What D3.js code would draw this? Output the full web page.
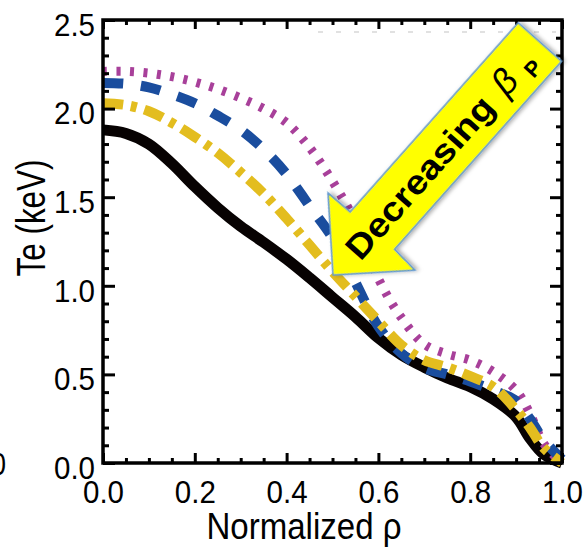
<!DOCTYPE html>
<html><head><meta charset="utf-8">
<script src="https://cdn.jsdelivr.net/npm/d3@7"></script>
<style>
html,body{margin:0;padding:0;background:#fff;}
svg{display:block;}
text{font-family:"Liberation Sans",Arial,sans-serif;}
</style></head>
<body>
<script>
// ---- data ----
const rho = [0,0.05,0.1,0.15,0.2,0.25,0.3,0.35,0.4,0.45,0.5,0.55,0.6,0.65,0.7,0.75,0.8,0.85,0.9,0.93,0.96,1.0];
const teBlack   = [1.88,1.86,1.80,1.69,1.56,1.44,1.335,1.245,1.15,1.045,0.935,0.825,0.705,0.61,0.54,0.48,0.43,0.36,0.26,0.14,0.05,0.0];
const teMagenta = [2.21,2.21,2.20,2.18,2.15,2.11,2.06,2.00,1.92,1.78,1.59,1.36,1.04,0.82,0.67,0.615,0.58,0.515,0.41,0.28,0.11,0.0];
const teBlue    = [2.145,2.14,2.12,2.08,2.03,1.96,1.88,1.77,1.63,1.45,1.27,1.02,0.77,0.62,0.535,0.50,0.46,0.41,0.35,0.25,0.13,0.02];
const teYellow  = [2.03,2.02,1.985,1.92,1.84,1.75,1.64,1.52,1.38,1.23,1.08,0.94,0.80,0.665,0.58,0.54,0.49,0.43,0.30,0.20,0.085,0.0];
const xMajor = [0,0.2,0.4,0.6,0.8,1.0];
const yMajor = [0,0.5,1.0,1.5,2.0,2.5];
const xLabel = "Normalized ρ";
const yLabel = "Te (keV)";
const arrowText = "Decreasing";

const W = 587, H = 551;
const svg = d3.select("body").append("svg").attr("width",W).attr("height",H);
const x = d3.scaleLinear().domain([0,1]).range([103,562]);
const y = d3.scaleLinear().domain([0,2.5]).range([463,20]);

const xMinor = d3.range(0,1.0001,0.05).filter(v=>!xMajor.some(m=>Math.abs(m-v)<1e-6));
const yMinor = d3.range(0,2.5001,0.1).filter(v=>!yMajor.some(m=>Math.abs(m-v)<1e-6));

// faint artifacts
svg.append("line").attr("x1",318).attr("x2",556).attr("y1",32).attr("y2",32)
  .attr("stroke","#d8d8d8").attr("stroke-width",1.5).attr("stroke-dasharray","5,13");
svg.append("text").attr("x",6).attr("y",475).attr("text-anchor","end")
  .attr("font-size",32).attr("textLength",15).attr("lengthAdjust","spacingAndGlyphs").text("0");

// series
const line = d3.line().x((d,i)=>x(rho[i])).y(d=>y(d)).curve(d3.curveCatmullRom.alpha(0.5));
const series = [
  {v:teBlack,   c:"#070202", w:11, dash:null},
  {v:teMagenta, c:"#A8409A", w:9,  dash:"4,9.5"},
  {v:teBlue,    c:"#1A4D9E", w:10, dash:"20,18"},
  {v:teYellow,  c:"#E3BD1F", w:10, dash:"20,8,6,8"}
];
svg.append("g").selectAll("path").data(series).join("path")
  .attr("d",d=>line(d.v)).attr("fill","none")
  .attr("stroke",d=>d.c).attr("stroke-width",d=>d.w)
  .attr("stroke-dasharray",d=>d.dash)
  .attr("stroke-linejoin","round");

// axes
function styleAxis(g){ g.select(".domain").remove(); g.selectAll("line").attr("stroke","#000").attr("stroke-width",3); }
svg.append("g").attr("transform","translate(0,463)")
  .call(d3.axisBottom(x).tickValues(xMajor).tickFormat(d3.format(".1f")).tickSizeInner(-10).tickPadding(17))
  .call(styleAxis)
  .call(g=>g.selectAll("text").attr("font-size",32).attr("fill","#000")
     .attr("font-family","Liberation Sans, Arial, sans-serif")
     .attr("textLength",41).attr("lengthAdjust","spacingAndGlyphs"));
svg.append("g").attr("transform","translate(0,463)")
  .call(d3.axisBottom(x).tickValues(xMinor).tickFormat("").tickSizeInner(-5)).call(styleAxis);
svg.append("g").attr("transform","translate(0,20)")
  .call(d3.axisTop(x).tickValues(xMajor).tickFormat("").tickSizeInner(-9)).call(styleAxis);
svg.append("g").attr("transform","translate(0,20)")
  .call(d3.axisTop(x).tickValues(xMinor).tickFormat("").tickSizeInner(-5)).call(styleAxis);

svg.append("g").attr("transform","translate(103,0)")
  .call(d3.axisLeft(y).tickValues(yMajor).tickFormat(d3.format(".1f")).tickSizeInner(-12).tickPadding(8))
  .call(styleAxis)
  .call(g=>g.selectAll("text").attr("font-size",32).attr("fill","#000").attr("y",5)
     .attr("font-family","Liberation Sans, Arial, sans-serif")
     .attr("textLength",41).attr("lengthAdjust","spacingAndGlyphs"));
svg.append("g").attr("transform","translate(103,0)")
  .call(d3.axisLeft(y).tickValues(yMinor).tickFormat("").tickSizeInner(-6)).call(styleAxis);
svg.append("g").attr("transform","translate(562,0)")
  .call(d3.axisRight(y).tickValues(yMajor).tickFormat("").tickSizeInner(-12)).call(styleAxis);
svg.append("g").attr("transform","translate(562,0)")
  .call(d3.axisRight(y).tickValues(yMinor).tickFormat("").tickSizeInner(-6)).call(styleAxis);

// frame
svg.append("rect").attr("x",x(0)).attr("y",y(2.5)).attr("width",x(1)-x(0)).attr("height",y(0)-y(2.5))
  .attr("fill","none").attr("stroke","#000").attr("stroke-width",3.5);

// axis titles
svg.append("text").attr("x",304).attr("y",539).attr("text-anchor","middle")
  .attr("font-size",37).attr("textLength",195).attr("lengthAdjust","spacingAndGlyphs").text(xLabel);
svg.append("text").attr("transform","translate(45,218) rotate(-90)").attr("text-anchor","middle")
  .attr("font-size",41).attr("textLength",117).attr("lengthAdjust","spacingAndGlyphs").text(yLabel);

// arrow annotation
const defs = svg.append("defs");
const f = defs.append("filter").attr("id","sh").attr("x","-20%").attr("y","-20%").attr("width","140%").attr("height","140%");
f.append("feDropShadow").attr("dx",2).attr("dy",2).attr("stdDeviation",2).attr("flood-color","#000").attr("flood-opacity",0.35);
const ang = -48.4;
const ag = svg.append("g").attr("transform",`translate(333,275) rotate(${ang})`);
const arrowPts = [[0,0],[58,-58],[58.5,-29],[311.5,-29],[311.5,29],[60,29],[58,58]];
ag.append("polygon").attr("points",arrowPts.map(p=>p.join(",")).join(" "))
  .attr("fill","#FFFF00").attr("stroke","#5F97CF").attr("stroke-width",1.6)
  .attr("stroke-linejoin","miter").attr("filter","url(#sh)");
ag.append("text").attr("x",28).attr("y",12).attr("font-size",34).attr("font-weight","bold")
  .attr("font-family","Lato, 'Noto Sans', sans-serif")
  .attr("textLength",205).attr("lengthAdjust","spacingAndGlyphs").text(arrowText);
ag.append("text").attr("x",248).attr("y",12).attr("font-size",36).attr("font-style","italic")
  .attr("font-family","'DejaVu Serif', serif").text("β");
ag.append("text").attr("x",280).attr("y",20).attr("font-size",22).attr("font-weight","bold")
  .attr("font-family","Lato, 'Noto Sans', sans-serif").text("P");
</script>
</body></html>
